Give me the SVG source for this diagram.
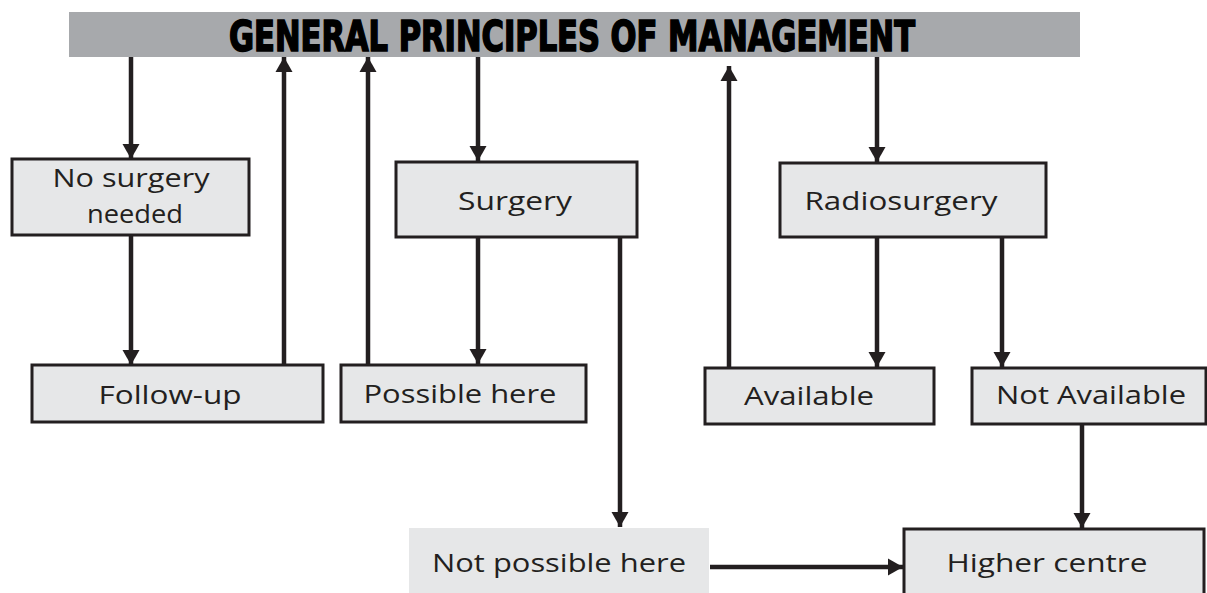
<svg xmlns="http://www.w3.org/2000/svg" width="1207" height="593" viewBox="0 0 1207 593">
<defs>
<marker id="ah" markerUnits="userSpaceOnUse" markerWidth="18" markerHeight="18" viewBox="0 0 18 18" refX="15" refY="9" orient="auto">
<path d="M0,0.5 L15,9 L0,17.5 Z" fill="#231f20"/>
</marker>
<style>
.box{fill:#e6e7e8;stroke:#231f20;stroke-width:3}
.plain{fill:#e6e7e8}
.t{font-family:"Open Sans","Noto Sans",sans-serif;font-size:26px;fill:#231f20;text-anchor:middle}
.c{stroke:#231f20;stroke-width:4.5;fill:none;marker-end:url(#ah)}
</style>
</defs>
<rect width="1207" height="593" fill="#ffffff"/>
<g id="title">
<rect x="69" y="12" width="1011" height="45" fill="#a7a9ac"/>
<text x="572" y="51" font-family="'Liberation Sans Narrow','DejaVu Sans Condensed','Liberation Sans',sans-serif" font-weight="bold" font-size="42" text-anchor="middle" textLength="686" lengthAdjust="spacingAndGlyphs" fill="#000" stroke="#000" stroke-width="1.6">GENERAL PRINCIPLES OF MANAGEMENT</text>
</g>
<g id="no-surgery">
<rect class="box" x="12" y="159" width="237" height="76"/>
<text class="t" x="131" y="187" textLength="157" lengthAdjust="spacingAndGlyphs">No surgery</text>
<text class="t" x="135" y="223" textLength="96" lengthAdjust="spacingAndGlyphs">needed</text>
</g>
<g id="surgery">
<rect class="box" x="396" y="162" width="241" height="75"/>
<text class="t" x="515" y="210" textLength="114" lengthAdjust="spacingAndGlyphs">Surgery</text>
</g>
<g id="radiosurgery">
<rect class="box" x="780" y="163" width="266" height="74"/>
<text class="t" x="901" y="210" textLength="193" lengthAdjust="spacingAndGlyphs">Radiosurgery</text>
</g>
<g id="follow-up">
<rect class="box" x="32" y="365" width="291" height="57"/>
<text class="t" x="170" y="404" textLength="143" lengthAdjust="spacingAndGlyphs">Follow-up</text>
</g>
<g id="possible-here">
<rect class="box" x="341" y="365" width="245" height="57"/>
<text class="t" x="460" y="403" textLength="193" lengthAdjust="spacingAndGlyphs">Possible here</text>
</g>
<g id="available">
<rect class="box" x="705" y="368" width="229" height="56"/>
<text class="t" x="809" y="405" textLength="130" lengthAdjust="spacingAndGlyphs">Available</text>
</g>
<g id="not-available">
<rect class="box" x="972" y="368" width="234" height="56"/>
<text class="t" x="1091" y="404" textLength="190" lengthAdjust="spacingAndGlyphs">Not Available</text>
</g>
<g id="not-possible-here">
<rect class="plain" x="409" y="528" width="300" height="65"/>
<text class="t" x="559" y="572" textLength="254" lengthAdjust="spacingAndGlyphs">Not possible here</text>
</g>
<g id="higher-centre">
<rect class="box" x="904" y="529" width="300" height="70"/>
<text class="t" x="1047" y="572" textLength="201" lengthAdjust="spacingAndGlyphs">Higher centre</text>
</g>
<g id="connectors">
<line class="c" x1="131" y1="57" x2="131" y2="159"/>
<line class="c" x1="131" y1="235" x2="131" y2="365"/>
<line class="c" x1="284" y1="365" x2="284" y2="57"/>
<line class="c" x1="368" y1="365" x2="368" y2="57"/>
<line class="c" x1="478" y1="57" x2="478" y2="161"/>
<line class="c" x1="478" y1="237" x2="478" y2="364"/>
<line class="c" x1="620" y1="237" x2="620" y2="527"/>
<line class="c" x1="710" y1="567" x2="903" y2="567"/>
<line class="c" x1="729" y1="368" x2="729" y2="66"/>
<line class="c" x1="877" y1="57" x2="877" y2="162"/>
<line class="c" x1="877" y1="237" x2="877" y2="367"/>
<line class="c" x1="1002" y1="237" x2="1002" y2="367"/>
<line class="c" x1="1082" y1="424" x2="1082" y2="528"/>
</g>
</svg>
